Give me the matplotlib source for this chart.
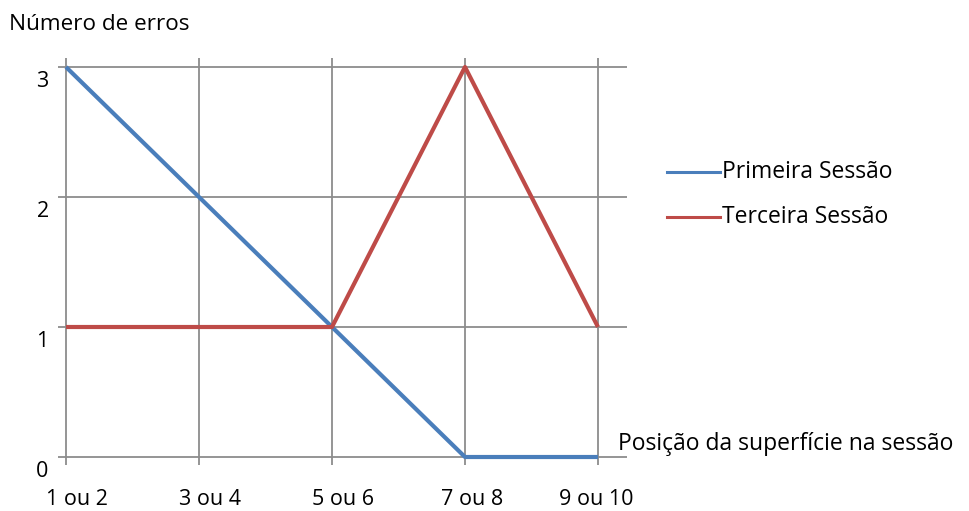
import matplotlib
matplotlib.use("Agg")
import matplotlib.pyplot as plt

# data
posicoes = ["1 ou 2", "3 ou 4", "5 ou 6", "7 ou 8", "9 ou 10"]
primeira = [3, 2, 1, 0, 0]
terceira = [1, 1, 1, 3, 1]
y_ticks = [0, 1, 2, 3]

blue = "#4a7ebb"
red = "#be4b48"
grid = "#8c8c8c"

plt.rcParams["font.family"] = ["Open Sans", "DejaVu Sans"]
fs = 16.5
fs_tick = 15.5

fig = plt.figure(figsize=(9.7, 5.11), dpi=100)
ax = fig.add_axes([0, 0, 1, 1])
# one unit = 133 px in x, 130 px in y; origin at (66, 457) px
ax.set_xlim(-66 / 133, (970 - 66) / 133)
ax.set_ylim(-(511 - 457) / 130, 457 / 130)
ax.axis("off")

x = list(range(len(posicoes)))

# grid lines (extend a little past the plot like the original)
ax.hlines(y_ticks, -0.06, 4.22, color=grid, lw=1.3, zorder=1)
ax.vlines(x, -0.06, 3.07, color=grid, lw=1.3, zorder=1)

ax.plot(x, primeira, color=blue, lw=3, solid_capstyle="butt", zorder=3)
ax.plot(x, terceira, color=red, lw=3, solid_capstyle="butt", zorder=3)

# tick labels (excel nudges category labels a bit to the right)
for v in y_ticks:
    ax.text(-0.13, v - 0.11, str(v), ha="right", va="center", fontsize=fs_tick)
label_dx = [0.08, 0.08, 0.08, 0.05, -0.01]
for xi, lab, dx in zip(x, posicoes, label_dx):
    ax.text(xi + dx, -0.325, lab, ha="center", va="center", fontsize=fs_tick)

# axis titles
ax.text(-0.43, 3.33, "Número de erros", ha="left", va="center", fontsize=16.2)
ax.text(4.15, 0.1, "Posição da superfície na sessão", ha="left", va="center",
        fontsize=fs)

# legend
for yl, col, lab in [(2.19, blue, "Primeira Sessão"), (1.85, red, "Terceira Sessão")]:
    ax.plot([4.52, 4.92], [yl, yl], color=col, lw=2.2)
    ax.text(4.93, yl, lab, ha="left", va="center", fontsize=fs)

fig.savefig("out.png", dpi=100, facecolor="white")
